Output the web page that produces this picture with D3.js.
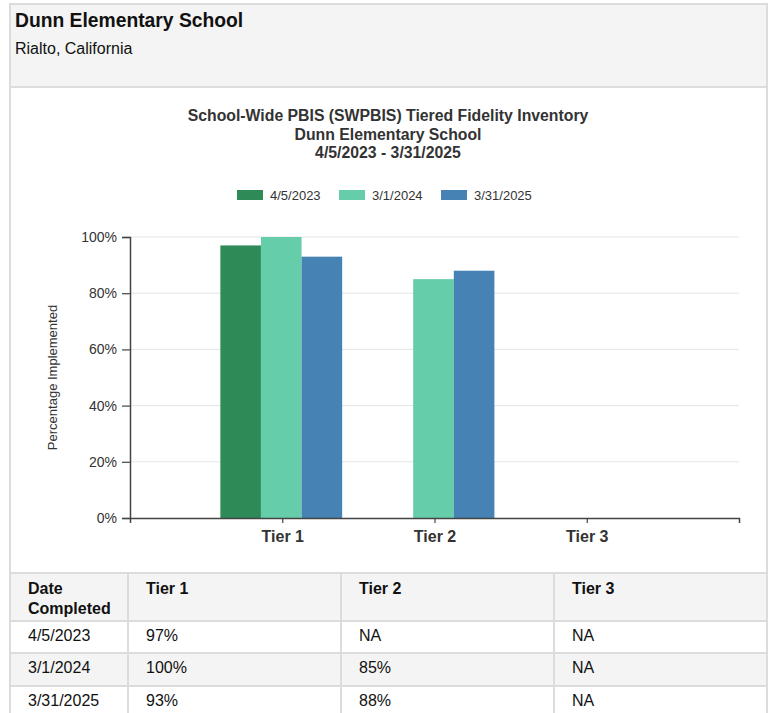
<!DOCTYPE html>
<html>
<head>
<meta charset="utf-8">
<script src="https://cdn.jsdelivr.net/npm/d3@7"></script>
<style>
  html, body { margin: 0; padding: 0; background: #fff; }
  svg { display: block; font-family: "Liberation Sans", Arial, Helvetica, sans-serif; }
</style>
</head>
<body>
<svg id="chart" width="771" height="713"></svg>
<script>
// ---- Data ----
const schoolName = "Dunn Elementary School";
const schoolLocation = "Rialto, California";
const titleLines = ["School-Wide PBIS (SWPBIS) Tiered Fidelity Inventory", "Dunn Elementary School", "4/5/2023 - 3/31/2025"];
const tiers = ["Tier 1", "Tier 2", "Tier 3"];
const dates = ["4/5/2023", "3/1/2024", "3/31/2025"];
const seriesColors = ["#2e8b57", "#66cdaa", "#4682b4"];
const tier1Values = [97, 100, 93];
const tier2Values = [null, 85, 88];
const tier3Values = [null, null, null];
const yTicks = [0, 20, 40, 60, 80, 100];
const yAxisLabel = "Percentage Implemented";
const tableHeaders = ["Date\nCompleted", "Tier 1", "Tier 2", "Tier 3"];

const tierValues = [tier1Values, tier2Values, tier3Values];

const svg = d3.select("#chart");
const borderCol = "#dcdcdc";

// ---- Outer frame / header ----
const L = 10, R = 767, T = 4;
svg.append("rect").attr("x", L).attr("y", T).attr("width", R - L).attr("height", 87 - T)
  .attr("fill", "#f4f4f4");
svg.append("text").attr("x", 15).attr("y", 27).attr("font-size", 19.3).attr("font-weight", "bold")
  .attr("fill", "#111").text(schoolName);
svg.append("text").attr("x", 15).attr("y", 54).attr("font-size", 16).attr("fill", "#111")
  .text(schoolLocation);

// ---- Chart title ----
const cx = 388;
titleLines.forEach((t, i) => {
  svg.append("text").attr("x", cx).attr("y", 121 + i * 18.5).attr("text-anchor", "middle")
    .attr("font-size", 15.8).attr("font-weight", "bold").attr("fill", "#333").text(t);
});

// ---- Legend ----
const legendX = [237, 339, 441];
dates.forEach((d, i) => {
  const g = svg.append("g");
  g.append("rect").attr("x", legendX[i]).attr("y", 190).attr("width", 26).attr("height", 10)
    .attr("fill", seriesColors[i]);
  g.append("text").attr("x", legendX[i] + 33).attr("y", 199.5).attr("font-size", 13)
    .attr("fill", "#333").text(d);
});

// ---- Plot ----
const x0 = 130, x1 = 739, yTop = 237, yBot = 518;
const x = d3.scalePoint().domain(tiers).range([x0, x1]).padding(1);
const y = d3.scaleLinear().domain([0, 100]).range([yBot, yTop]);
const groupW = x.step() * 0.8;
const xs = d3.scaleBand().domain(dates).range([-groupW / 2, groupW / 2]).padding(0);

// gridlines
svg.append("g").selectAll("line").data(yTicks.filter(v => v > 0)).join("line")
  .attr("x1", x0).attr("x2", x1).attr("y1", d => y(d)).attr("y2", d => y(d))
  .attr("stroke", "#e4e4e4").attr("stroke-width", 1);

// bars
const barData = [];
tiers.forEach((t, ti) => {
  dates.forEach((d, di) => {
    const v = tierValues[ti][di];
    if (v !== null) barData.push({ tier: t, date: d, value: v, color: seriesColors[di] });
  });
});
svg.append("g").selectAll("rect").data(barData).join("rect")
  .attr("x", d => x(d.tier) - 1 + xs(d.date))
  .attr("width", xs.bandwidth())
  .attr("y", d => y(d.value))
  .attr("height", d => yBot - y(d.value))
  .attr("fill", d => d.color);

// y axis
const yAxis = d3.axisLeft(y).tickValues(yTicks).tickFormat(d => d + "%").tickSize(8).tickPadding(5);
const gy = svg.append("g").attr("transform", `translate(${x0},0)`).call(yAxis);
gy.select(".domain").attr("stroke", "#444").attr("stroke-width", 1.5);
gy.selectAll(".tick line").attr("stroke", "#444").attr("stroke-width", 1.2);
gy.selectAll(".tick text").attr("font-size", 14).attr("fill", "#333")
  .attr("font-family", "Liberation Sans, Arial, sans-serif");

// x axis
const xAxis = d3.axisBottom(x).tickSize(5).tickPadding(8).tickSizeOuter(5);
const gx = svg.append("g").attr("transform", `translate(0,${yBot})`).call(xAxis);
gx.select(".domain").attr("stroke", "#444").attr("stroke-width", 1.5);
gx.selectAll(".tick line").attr("stroke", "#444").attr("stroke-width", 1.2);
gx.selectAll(".tick text").attr("font-size", 16).attr("font-weight", "bold").attr("fill", "#333")
  .attr("font-family", "Liberation Sans, Arial, sans-serif");

// y label
svg.append("text").attr("transform", `translate(57,${(yTop + yBot) / 2}) rotate(-90)`)
  .attr("text-anchor", "middle").attr("font-size", 13).attr("fill", "#333").text(yAxisLabel);

// ---- Table ----
const colX = [L, 128, 341, 554, R];
const rowY = [573, 621, 653, 686, 720];
const rowFill = ["#f4f4f4", "#ffffff", "#f4f4f4", "#ffffff"];
const tableG = svg.append("g");
rowFill.forEach((f, i) => {
  tableG.append("rect").attr("x", L).attr("y", rowY[i]).attr("width", R - L)
    .attr("height", rowY[i + 1] - rowY[i]).attr("fill", f);
});
// header texts
tableHeaders.forEach((h, ci) => {
  h.split("\n").forEach((line, li) => {
    tableG.append("text").attr("x", colX[ci] + 18).attr("y", 594 + li * 19.5)
      .attr("font-size", 16).attr("font-weight", "bold").attr("fill", "#111").text(line);
  });
});
// body rows
dates.forEach((d, ri) => {
  const cells = [d].concat(tierValues.map(tv => tv[ri] === null ? "NA" : tv[ri] + "%"));
  cells.forEach((c, ci) => {
    tableG.append("text").attr("x", colX[ci] + 18).attr("y", rowY[ri + 1] + 19.5)
      .attr("font-size", 16).attr("fill", "#111").text(c);
  });
});
// table borders
rowY.slice(0, 4).forEach(ry => {
  tableG.append("line").attr("x1", L).attr("x2", R).attr("y1", ry).attr("y2", ry)
    .attr("stroke", borderCol).attr("stroke-width", 2);
});
colX.slice(1, 4).forEach(cxv => {
  tableG.append("line").attr("x1", cxv).attr("x2", cxv).attr("y1", 573).attr("y2", 713)
    .attr("stroke", borderCol).attr("stroke-width", 2);
});

// outer frame lines
svg.append("line").attr("x1", L).attr("x2", R).attr("y1", 87).attr("y2", 87)
  .attr("stroke", borderCol).attr("stroke-width", 2);
svg.append("rect").attr("x", L).attr("y", T).attr("width", R - L).attr("height", 713 - T + 5)
  .attr("fill", "none").attr("stroke", borderCol).attr("stroke-width", 2);
</script>
</body>
</html>
